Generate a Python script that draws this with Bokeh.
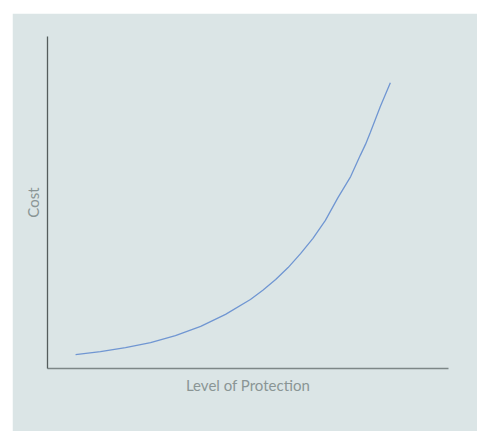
from bokeh.plotting import figure
from bokeh.embed import file_html
from bokeh.resources import INLINE
from bokeh.models import Range1d, FixedTicker

# Level of protection (x) vs cost (y)
protection = [7.0, 13.2, 19.45, 25.7, 31.9, 38.2, 44.4, 50.6, 53.7, 56.9, 60.0, 63.1, 66.2, 69.3, 72.4,
              75.6, 78.0, 79.3, 80.5, 83.0, 85.5]
cost = [4.2, 5.1, 6.3, 7.8, 9.9, 12.7, 16.3, 20.8, 23.6, 26.8, 30.4, 34.6, 39.2, 44.6, 51.4,
        57.8, 64.2, 67.5, 71.1, 78.9, 86.1]

x_label = "Level of Protection"
y_label = "Cost"

BG = "#dbe5e6"

p = figure(width=465, height=418, output_backend="svg", toolbar_location=None,
           x_range=Range1d(0, 100), y_range=Range1d(0, 100),
           min_border_left=35, min_border_top=23, min_border_right=29, min_border_bottom=63,
           background_fill_color=BG, border_fill_color=BG, margin=(13, 0, 0, 12))
p.outline_line_color = BG
p.outline_line_width = 2
p.grid.visible = False

p.line(protection, cost, line_color="#7096d2", line_width=1.3)

for ax, col in ((p.xaxis, "#7d8787"), (p.yaxis, "#555d5d")):
    ax.ticker = FixedTicker(ticks=[])
    ax.major_tick_line_color = None
    ax.minor_tick_line_color = None
    ax.major_label_text_font_size = "0px"
    ax.axis_line_color = col
    ax.axis_line_width = 1.3
    ax.axis_label_text_font = "Lato"
    ax.axis_label_text_font_size = "15px"
    ax.axis_label_text_font_style = "normal"
    ax.axis_label_text_color = "#8a9595"

p.xaxis.axis_label = x_label
p.yaxis.axis_label = y_label
p.xaxis.axis_label_standoff = 7
p.yaxis.axis_label_standoff = 6

open("out.html", "w").write(file_html(p, INLINE))
